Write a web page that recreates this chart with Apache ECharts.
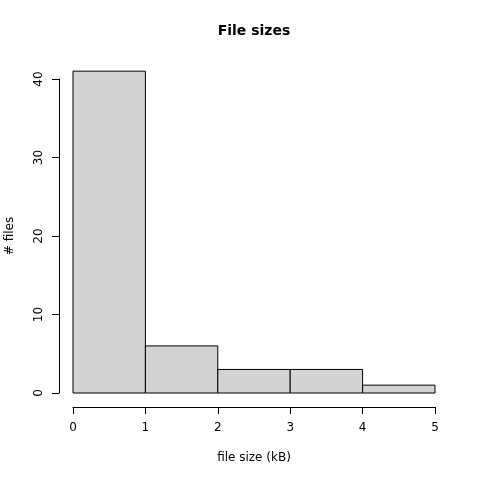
<!DOCTYPE html>
<html>
<head>
<meta charset="utf-8">
<script src="https://cdn.jsdelivr.net/npm/echarts@6/dist/echarts.min.js"></script>
<style>
  html, body { margin: 0; padding: 0; background: #fff; }
  #chart { width: 480px; height: 480px; }
</style>
</head>
<body>
<div id="chart"></div>
<script>
// histogram bins (kB) and counts
const binStarts = [0, 1, 2, 3, 4];
const binEnds = [1, 2, 3, 4, 5];
const counts = [41, 6, 3, 3, 1];

const chart = echarts.init(document.getElementById("chart"));

const font = "DejaVu Sans";

chart.setOption({
  animation: false,
  title: {
    text: "File sizes",
    left: 249,
    top: 19,
    textAlign: "center",
    textStyle: { fontFamily: font, fontSize: 14, fontWeight: "bold", color: "#000" },
  },
  grid: { left: 73, right: 45, top: 79, bottom: 87, containLabel: false, outerBoundsMode: "none" },
  xAxis: {
    type: "value",
    min: 0,
    max: 5,
    interval: 1,
    offset: 14,
    name: "file size (kB)",
    nameLocation: "middle",
    nameGap: 45,
    nameTextStyle: { fontFamily: font, fontSize: 12, color: "#000" },
    axisLine: { show: true, onZero: false, lineStyle: { color: "#000", width: 1 } },
    axisTick: { show: true, length: 7, lineStyle: { color: "#000" } },
    axisLabel: { fontFamily: font, fontSize: 12, color: "#000", margin: 15 },
    splitLine: { show: false },
  },
  yAxis: {
    type: "value",
    min: 0,
    max: 40,
    interval: 10,
    offset: 14,
    name: "# files",
    nameLocation: "middle",
    nameGap: 43,
    nameRotate: 90,
    nameTextStyle: { fontFamily: font, fontSize: 12, color: "#000" },
    axisLine: { show: true, onZero: false, lineStyle: { color: "#000", width: 1 } },
    axisTick: { show: true, length: 7, lineStyle: { color: "#000" } },
    axisLabel: { fontFamily: font, fontSize: 12, color: "#000", rotate: 90, margin: 14 },
    splitLine: { show: false },
  },
  series: [
    {
      type: "custom",
      clip: false,
      data: counts.map((c, i) => [binStarts[i], binEnds[i], c]),
      renderItem: (params, api) => {
        const p0 = api.coord([api.value(0), api.value(2)]);
        const p1 = api.coord([api.value(1), 0]);
        return {
          type: "rect",
          shape: { x: p0[0], y: p0[1], width: p1[0] - p0[0], height: p1[1] - p0[1] },
          style: { fill: "#d3d3d3", stroke: "#000", lineWidth: 1 },
        };
      },
    },
  ],
});
</script>
</body>
</html>
